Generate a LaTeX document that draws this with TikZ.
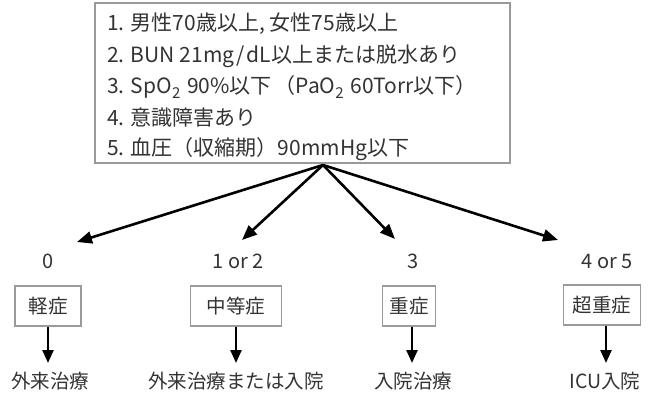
\documentclass[tikz,border=0pt]{standalone}
\usepackage{fontspec}
\setmainfont{Noto Sans CJK JP}
\usetikzlibrary{arrows.meta}
\definecolor{txt}{HTML}{333333}
\definecolor{frame}{HTML}{9A9A9A}
\newcommand{\subtwo}{\raisebox{-0.22em}{\fontsize{15}{15}\selectfont 2}}
\tikzset{
  crit/.style={draw=frame,line width=1.3pt,minimum width=415pt,minimum height=160pt,inner sep=0pt},
  line/.style={anchor=west,inner sep=0pt,text=txt,font=\fontsize{21}{24}\selectfont},
  score/.style={inner sep=0pt,text=txt,font=\fontsize{20}{24}\selectfont},
  sev/.style={draw=frame,line width=1.2pt,minimum height=40pt,inner sep=0pt,text=txt,font=\fontsize{19.5}{24}\selectfont},
  result/.style={inner sep=0pt,text=txt,font=\fontsize{19.5}{24}\selectfont},
  bigarrow/.style={line width=2.6pt,-{Triangle[length=15pt,width=12pt]}},
  downarrow/.style={line width=2.4pt,-{Triangle[length=13pt,width=11pt]}}
}
\begin{document}
\begin{tikzpicture}[x=1pt,y=-1pt]
\useasboundingbox (0,0) rectangle (653,398);
\node[crit] (box) at (302.5,83) {};
\node[line] (c1) at (107,24) {1. 男性70歳以上, 女性75歳以上};
\node[line] (c2) at (107,56) {2. BUN 21mg\hspace{2pt}/\hspace{2pt}dL以上または脱水あり};
\node[line] (c3) at (107,87) {3. SpO\subtwo\hspace{2pt} 90\%以下\hspace{3pt}（PaO\subtwo\hspace{2pt} 60Torr以下）};
\node[line] (c4) at (107,118) {4. 意識障害あり};
\node[line] (c5) at (107,149) {5. 血圧（収縮期）90mmHg以下};

\coordinate (apex) at (323,165);
\coordinate (t0) at (77,242);
\coordinate (t1) at (242,240);
\coordinate (t2) at (395,239);
\coordinate (t3) at (558,240);
\draw[bigarrow] (apex) -- (t0);
\draw[bigarrow] (apex) -- (t1);
\draw[bigarrow] (apex) -- (t2);
\draw[bigarrow] (apex) -- (t3);

\node[score] (s0) at (48,261) {0};
\node[score] (s1) at (238,261) {1 or 2};
\node[score] (s2) at (413,261) {3};
\node[score] (s3) at (607,261) {4 or 5};

\node[sev,minimum width=66pt] (b0) at (48,306) {軽症};
\node[sev,minimum width=91pt] (b1) at (236,306) {中等症};
\node[sev,minimum width=53pt] (b2) at (409,306) {重症};
\node[sev,minimum width=77pt] (b3) at (602,305) {超重症};

\node[result] (r0) at (50,381) {外来治療};
\node[result] (r1) at (236,381) {外来治療または入院};
\node[result] (r2) at (413,381) {入院治療};
\node[result] (r3) at (605,381) {ICU入院};

\coordinate (d0) at (48,363);
\coordinate (d1) at (236,363);
\coordinate (d2) at (412,363);
\coordinate (d3) at (606,363);
\draw[downarrow] (b0.south -| d0) -- (d0);
\draw[downarrow] (b1.south -| d1) -- (d1);
\draw[downarrow] (b2.south -| d2) -- (d2);
\draw[downarrow] (b3.south -| d3) -- (d3);
\end{tikzpicture}
\end{document}
